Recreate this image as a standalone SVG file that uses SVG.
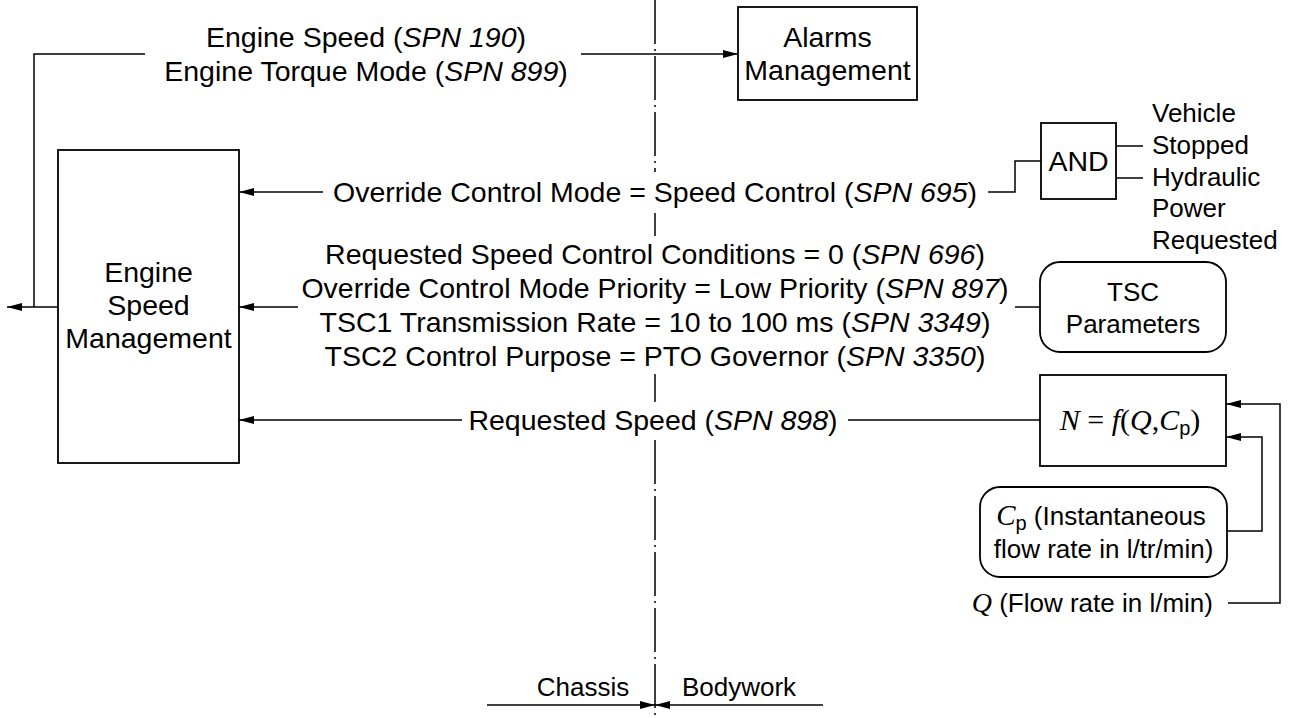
<svg xmlns="http://www.w3.org/2000/svg" width="1291" height="718" viewBox="0 0 1291 718">
<defs>
<style>
.t{font-family:"Liberation Sans",Arial,sans-serif;font-size:28.5px;fill:#000;text-anchor:middle}
.s{font-size:26px}
.st{text-anchor:start}
.en{text-anchor:end}
.i{font-style:italic}
.m{font-family:"Liberation Serif","Times New Roman",serif;font-style:italic}
.n{font-style:normal}
.ln{stroke:#000;stroke-width:1.5;fill:none}
.box{fill:#fff;stroke:#000;stroke-width:1.8}
.dd{stroke:#000;stroke-width:1.5;fill:none;stroke-dasharray:44 5 2 5}
</style>
<marker id="ah" markerUnits="userSpaceOnUse" markerWidth="15" markerHeight="9" refX="15" refY="4.5" orient="auto">
<path d="M0,0.5 L15,4.5 L0,8.5 z" fill="#000"/>
</marker>
</defs>
<rect width="1291" height="718" fill="#fff"/>

<g id="connectors">
<path class="dd" d="M655,0 V172"/>
<path class="dd" d="M655,213 V236"/>
<path class="dd" d="M655,374 V402"/>
<path class="dd" d="M655,440 V718"/>
<path class="ln" d="M58,307 H7" marker-end="url(#ah)"/>
<path class="ln" d="M34,307 V54 H145"/>
<path class="ln" d="M581,54 H738" marker-end="url(#ah)"/>
<path class="ln" d="M323,192 H239" marker-end="url(#ah)"/>
<path class="ln" d="M988,192 H1015 V161 H1041"/>
<path class="ln" d="M298,307 H239" marker-end="url(#ah)"/>
<path class="ln" d="M1015,307 H1040"/>
<path class="ln" d="M462,420 H239" marker-end="url(#ah)"/>
<path class="ln" d="M848,420 H1040"/>
<path class="ln" d="M1116,146 H1143"/>
<path class="ln" d="M1116,178 H1143"/>
<path class="ln" d="M1227,531 H1262 V437 H1226" marker-end="url(#ah)"/>
<path class="ln" d="M1228,603 H1280 V404 H1226" marker-end="url(#ah)"/>
<path class="ln" d="M487,705 H655" marker-end="url(#ah)"/>
<path class="ln" d="M823,705 H655" marker-end="url(#ah)"/>
</g>

<g id="labels">
<text class="t" x="366" y="47">Engine Speed (<tspan class="i">SPN 190</tspan>)</text>
<text class="t" x="366" y="81">Engine Torque Mode (<tspan class="i">SPN 899</tspan>)</text>
<text class="t" x="655" y="202">Override Control Mode = Speed Control (<tspan class="i">SPN 695</tspan>)</text>
<text class="t" x="655" y="264">Requested Speed Control Conditions = 0 (<tspan class="i">SPN 696</tspan>)</text>
<text class="t" x="655" y="298">Override Control Mode Priority = Low Priority (<tspan class="i">SPN 897</tspan>)</text>
<text class="t" x="655" y="332">TSC1 Transmission Rate = 10 to 100 ms (<tspan class="i">SPN 3349</tspan>)</text>
<text class="t" x="655" y="366">TSC2 Control Purpose = PTO Governor (<tspan class="i">SPN 3350</tspan>)</text>
<text class="t" x="653" y="430">Requested Speed (<tspan class="i">SPN 898</tspan>)</text>
<text class="t s" x="583" y="696">Chassis</text>
<text class="t s" x="739" y="696">Bodywork</text>
</g>

<g id="esm">
<rect class="box" x="58" y="150" width="181" height="313"/>
<text class="t" x="148.5" y="282">Engine</text>
<text class="t" x="148.5" y="315">Speed</text>
<text class="t" x="148.5" y="348">Management</text>
</g>

<g id="alarms">
<rect class="box" x="738" y="7" width="179" height="93"/>
<text class="t" x="827.5" y="47">Alarms</text>
<text class="t" x="827.5" y="80">Management</text>
</g>

<g id="and">
<rect class="box" x="1041" y="123" width="75" height="76"/>
<text class="t" x="1078.5" y="171">AND</text>
</g>

<g id="conditions">
<text class="t s st" x="1152" y="122">Vehicle</text>
<text class="t s st" x="1152" y="154">Stopped</text>
<text class="t s st" x="1152" y="186">Hydraulic</text>
<text class="t s st" x="1152" y="217">Power</text>
<text class="t s st" x="1152" y="249">Requested</text>
</g>

<g id="tsc">
<rect class="box" x="1040" y="262" width="186" height="90" rx="20"/>
<text class="t s" x="1133" y="301">TSC</text>
<text class="t s" x="1133" y="333">Parameters</text>
</g>

<g id="formula">
<rect class="box" x="1040" y="375" width="186" height="91"/>
<text class="t m" x="1130" y="430" style="font-size:30px">N<tspan class="n"> = </tspan>f<tspan class="n">(</tspan>Q<tspan class="n">,</tspan>C<tspan class="n" style="font-family:'Liberation Sans',Arial,sans-serif;font-size:20px" dy="5">p</tspan><tspan class="n" dy="-5">)</tspan></text>
</g>

<g id="cp">
<rect class="box" x="980" y="487" width="247" height="90" rx="20"/>
<text class="t s" x="1101" y="525"><tspan class="m" style="font-size:29px">C</tspan><tspan style="font-size:20px" dy="5">p</tspan><tspan dy="-5"> (Instantaneous</tspan></text>
<text class="t s" x="1103.5" y="558">flow rate in l/tr/min)</text>
</g>

<g id="q">
<text class="t s en" x="1213" y="612"><tspan class="m" style="font-size:28px">Q</tspan> (Flow rate in l/min)</text>
</g>
</svg>
